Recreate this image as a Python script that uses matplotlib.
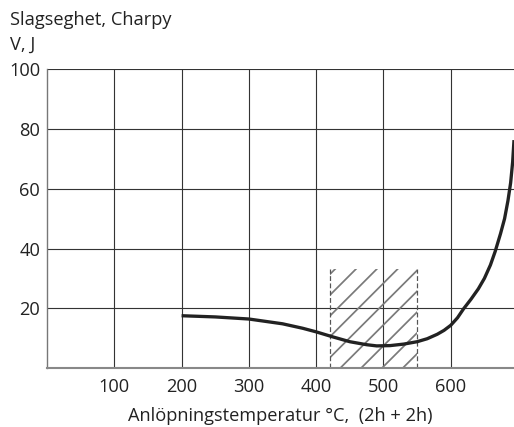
import numpy as np
import matplotlib
matplotlib.use("Agg")
from matplotlib import pyplot as plt

# kurvan
temp = [200, 250, 300, 350, 380, 400, 425, 450, 475, 490, 510, 530, 550,
        565, 580, 590, 600, 610, 619, 630, 641, 650, 659, 666, 674, 680,
        685, 689, 692, 694]
charpy = [17.5, 17.1, 16.4, 14.8, 13.3, 12.1, 10.4, 8.8, 7.8, 7.4, 7.5, 8.0, 8.8,
          9.8, 11.3, 12.6, 14.3, 16.8, 19.8, 23.0, 26.5, 30.0, 34.5, 39.0, 45.0,
          50.0, 56.0, 62.0, 69.0, 76.3]

# skrafferat område
zone_x = [420, 550]
zone_top = 33

xticks = [100, 200, 300, 400, 500, 600]
yticks = [20, 40, 60, 80, 100]

plt.rcParams['font.family'] = ['Open Sans', 'DejaVu Sans']
plt.rcParams['hatch.color'] = '#7a7a7a'
plt.rcParams['hatch.linewidth'] = 1.0

dpi = 125
fig = plt.figure(figsize=(514 / dpi, 427 / dpi), dpi=dpi)
ax = fig.add_axes([47 / 514, 1 - 368 / 427, 1 - 47 / 514, (368 - 69.3) / 427])

ax.set_xlim(0, 694)
ax.set_ylim(0, 100)

# rutnät
for xv in xticks:
    ax.axvline(xv, color='#333333', lw=0.65, zorder=1)
for yv in yticks:
    ax.axhline(yv, color='#333333', lw=0.65, zorder=1)

ax.fill_between(zone_x, 0, zone_top, facecolor='none', hatch='//',
                edgecolor='#7a7a7a', linewidth=0, zorder=2)
for xv in zone_x:
    ax.plot([xv, xv], [0, zone_top], color='#555555', lw=0.7,
            ls=(0, (4, 2)), zorder=2)

ax.plot(temp, charpy, color='#222222', lw=1.9, solid_capstyle='butt',
        solid_joinstyle='round', zorder=3)

for s in ['top', 'right']:
    ax.spines[s].set_visible(False)
ax.spines['left'].set_color('#777777')
ax.spines['bottom'].set_color('#888888')
ax.spines['bottom'].set_linewidth(1.2)

ax.set_xticks(xticks)
ax.set_yticks(yticks)
ax.tick_params(length=0, labelsize=10.5, colors='#222222', pad=6)
ax.tick_params(axis='y', pad=4)
ax.set_xlabel('Anlöpningstemperatur °C,  (2h + 2h)', fontsize=10.5,
              color='#222222', labelpad=6)

fig.text(10 / 514, 1 - 11 / 427, 'Slagseghet, Charpy', fontsize=10.5,
         color='#222222', va='top', ha='left')
fig.text(10 / 514, 1 - 36 / 427, 'V, J', fontsize=10.5,
         color='#222222', va='top', ha='left')

fig.savefig('out.png', dpi=dpi, facecolor='white')
